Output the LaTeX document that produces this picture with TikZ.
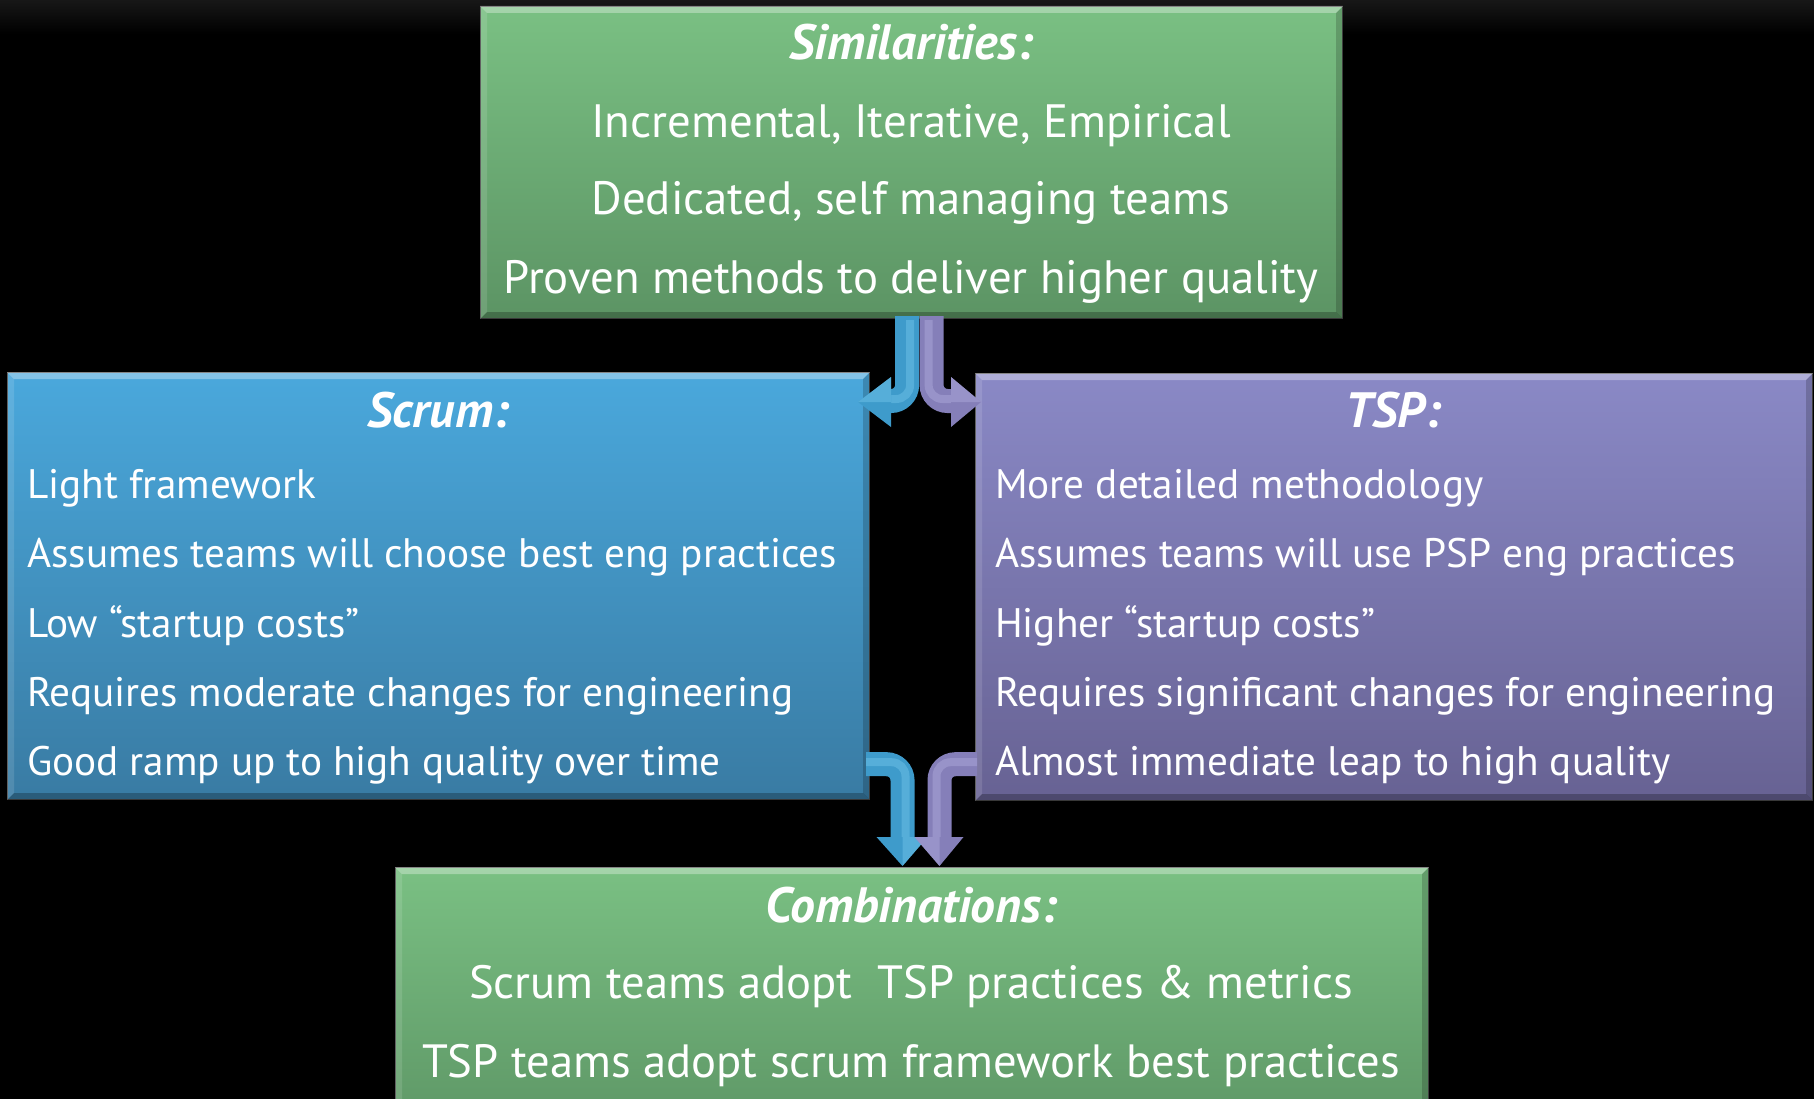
\documentclass[tikz,border=0pt]{standalone}
\usepackage{fontspec}
\setmainfont{PT Sans}
\usetikzlibrary{calc}

\definecolor{grtop}{HTML}{7AC083}
\definecolor{grbot}{HTML}{5C9464}
\definecolor{bltop}{HTML}{4AA8DC}
\definecolor{blbot}{HTML}{397BA3}
\definecolor{pptop}{HTML}{8A89C6}
\definecolor{ppbot}{HTML}{676293}
\definecolor{arblue}{HTML}{3E9BCB}
\definecolor{arbluehi}{HTML}{74C6EC}
\definecolor{arpurp}{HTML}{857FB9}
\definecolor{arpurphi}{HTML}{B1ACDD}
\definecolor{haze}{HTML}{171717}

\newlength\probe
% font size that makes #3 exactly #2 px wide
\newcommand\fitsize[3]{%
  \settowidth\probe{\normalfont\fontsize{10}{12}\selectfont #3}%
  \pgfmathsetmacro\tmpsize{10*#2/\probe}%
  \global\let#1\tmpsize}

\AtBeginDocument{%
  \fitsize\sidesize{810}{Assumes teams will choose best eng practices}%
  \fitsize\midsize{815}{Proven methods to deliver higher quality}%
  \fitsize\lowsize{978}{TSP teams adopt scrum framework best practices}%
  \fitsize\ttlsize{244}{\bfseries\itshape Similarities:}}

\newcommand\sidefont{\fontsize{\sidesize}{\sidesize}\selectfont}
\newcommand\midfont{\fontsize{\midsize}{\midsize}\selectfont}
\newcommand\lowfont{\fontsize{\lowsize}{\lowsize}\selectfont}
\newcommand\ttlfont{\fontsize{\ttlsize}{\ttlsize}\selectfont\bfseries\itshape}

% light and dark edges that give a panel its raised look
\newcommand\bevel[2]{%
  \fill[white,opacity=.32] (#1.north west) -- (#1.north east) -- ($(#1.north east)+(-#2,#2)$) -- ($(#1.north west)+(#2,#2)$) -- cycle;
  \fill[white,opacity=.12] (#1.north west) -- ($(#1.north west)+(#2,#2)$) -- ($(#1.south west)+(#2,-#2)$) -- (#1.south west) -- cycle;
  \fill[black,opacity=.18] (#1.north east) -- ($(#1.north east)+(-#2,#2)$) -- ($(#1.south east)+(-#2,-#2)$) -- (#1.south east) -- cycle;
  \fill[black,opacity=.25] (#1.south west) -- (#1.south east) -- ($(#1.south east)+(-#2,-#2)$) -- ($(#1.south west)+(#2,-#2)$) -- cycle;}

\tikzset{
  panel/.style={draw=black!70, line width=1.2pt, anchor=north west, inner sep=0pt},
  greenpanel/.style={panel, top color=grtop, bottom color=grbot},
  bluepanel/.style={panel, top color=bltop, bottom color=blbot},
  purppanel/.style={panel, top color=pptop, bottom color=ppbot},
  txt/.style={text=white, inner sep=0pt, anchor=base},
  ltxt/.style={txt, anchor=base west, font=\sidefont},
  ctxt/.style={txt, font=\midfont},
  ttl/.style={txt, font=\ttlfont},
  shaft/.style={line width=24pt, rounded corners=16pt},
  shine/.style={line width=8pt, rounded corners=14pt, opacity=.45},
}

\begin{document}
\begin{tikzpicture}[x=1pt,y=-1pt]
\useasboundingbox (0,0) rectangle (1814,1099);
\clip (0,0) rectangle (1814,1099);
\fill[black] (0,0) rectangle (1814,1099);
\shade[top color=haze, bottom color=black] (0,0) rectangle (1814,34);

% panels
\node[greenpanel, minimum width=862pt, minimum height=312pt] (sim) at (480,6) {};
\node[bluepanel, minimum width=862pt, minimum height=427pt] (scrum) at (7,372) {};
\node[purppanel, minimum width=837pt, minimum height=427pt] (tsp) at (975,373) {};
\node[greenpanel, minimum width=1033pt, minimum height=280pt] (comb) at (395,867) {};
\bevel{sim}{7}
\bevel{scrum}{7}
\bevel{tsp}{7}
\bevel{comb}{7}

% Similarities
\node[ttl] (simT) at (911,60) {Similarities:};
\node[ctxt] (sim1) at (911,138) {Incremental, Iterative, Empirical};
\node[ctxt] (sim2) at (911,215) {Dedicated, self managing teams};
\node[ctxt] (sim3) at (911,293) {Proven methods to deliver higher quality};

% Scrum
\node[ttl] (scrumT) at (438,427) {Scrum:};
\node[ltxt] (sc1) at (27,498) {Light framework};
\node[ltxt] (sc2) at (27,567) {Assumes teams will choose best eng practices};
\node[ltxt] (sc3) at (27,637) {Low “startup costs”};
\node[ltxt] (sc4) at (27,706) {Requires moderate changes for engineering};
\node[ltxt] (sc5) at (27,775) {Good ramp up to high quality over time};

% TSP
\node[ttl] (tspT) at (1393,427) {TSP:};
\node[ltxt] (ts1) at (995,498) {More detailed methodology};
\node[ltxt] (ts2) at (995,567) {Assumes teams will use PSP eng practices};
\node[ltxt] (ts3) at (995,637) {Higher “startup costs”};
\node[ltxt] (ts4) at (995,706) {Requires significant changes for engineering};
\node[ltxt] (ts5) at (995,775) {Almost immediate leap to high quality};

% Combinations
\node[ttl] (combT) at (911,922) {Combinations:};
\node[txt, font=\lowfont] (cb1) at (911,998) {Scrum teams adopt\ \ TSP practices \& metrics};
\node[txt, font=\lowfont] (cb2) at (911,1077) {TSP teams adopt scrum framework best practices};

% bent arrows from Similarities to Scrum and TSP
\coordinate (aS) at ($(sim.south)+(-4.5,-3)$);
\coordinate (aB) at (890,401);
\coordinate (aTip) at (858,402);
\draw[shaft, arblue] (aS) |- (aB);
\draw[shine, arbluehi] ($(aS)+(3,4)$) |- ($(aB)+(0,-2)$);
\fill[arblue] ($(aB)+(1,-24)$) -- (aTip) -- ($(aB)+(1,26)$) -- cycle;
\fill[arbluehi,opacity=.45] ($(aB)+(1,-24)$) -- (aTip) -- ($(aB)+(1,1)$) -- cycle;

\coordinate (bS) at ($(sim.south)+(20,-3)$);
\coordinate (bB) at (952,401);
\coordinate (bTip) at (981,402);
\draw[shaft, arpurp] (bS) |- (bB);
\draw[shine, arpurphi] ($(bS)+(-3,4)$) |- ($(bB)+(0,-2)$);
\fill[arpurp] ($(bB)+(-1,-24)$) -- (bTip) -- ($(bB)+(-1,26)$) -- cycle;
\fill[arpurphi,opacity=.45] ($(bB)+(-1,-24)$) -- (bTip) -- ($(bB)+(-1,1)$) -- cycle;

% bent arrows from Scrum and TSP to Combinations
\coordinate (cS) at ($(scrum.south east)+(-4,-36)$);
\coordinate (cB) at (902.5,838);
\coordinate (cTip) at (902.5,866);
\draw[shaft, arblue] (cS) -| (cB);
\draw[shine, arbluehi] ($(cS)+(0,-2)$) -| ($(cB)+(3,0)$);
\fill[arblue] ($(cB)+(-26,-1)$) -- (cTip) -- ($(cB)+(25,-1)$) -- cycle;
\fill[arbluehi,opacity=.45] ($(cB)+(0,-1)$) -- (cTip) -- ($(cB)+(25,-1)$) -- cycle;

\coordinate (dS) at ($(tsp.south west)+(2,-37)$);
\coordinate (dB) at (939.5,838);
\coordinate (dTip) at (939.5,866);
\draw[shaft, arpurp] (dS) -| (dB);
\draw[shine, arpurphi] ($(dS)+(0,-2)$) -| ($(dB)+(-3,0)$);
\fill[arpurp] ($(dB)+(-25,-1)$) -- (dTip) -- ($(dB)+(24,-1)$) -- cycle;
\fill[arpurphi,opacity=.45] ($(dB)+(-25,-1)$) -- (dTip) -- ($(dB)+(0,-1)$) -- cycle;
\end{tikzpicture}
\end{document}
